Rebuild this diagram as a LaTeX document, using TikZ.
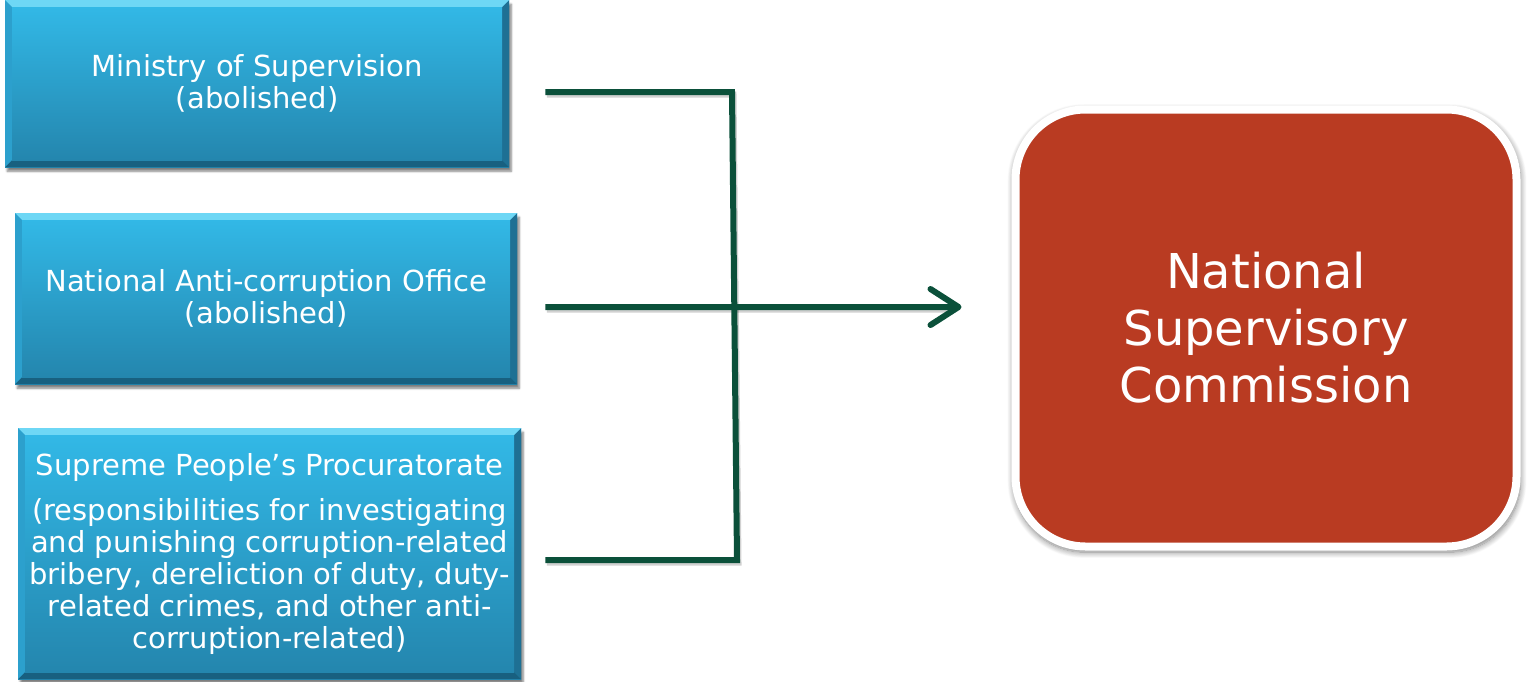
\documentclass[tikz,border=0pt]{standalone}
\usepackage{fontspec}
\setmainfont{DejaVu Sans}
\usetikzlibrary{arrows.meta,shadows.blur,calc}

\definecolor{boxtop}{RGB}{50,184,230}
\definecolor{boxbot}{RGB}{36,134,174}
\definecolor{bevlight}{RGB}{110,215,245}
\definecolor{bevleft}{RGB}{44,160,205}
\definecolor{bevright}{RGB}{30,112,148}
\definecolor{bevdark}{RGB}{24,96,128}
\definecolor{nscred}{RGB}{185,59,34}
\definecolor{linkgreen}{RGB}{11,80,58}

\tikzset{
  bluebox/.style={
    anchor=north west, inner sep=0pt, align=center, text=white,
    top color=boxtop, bottom color=boxbot,
    font=\fontsize{29}{32}\selectfont,
    blur shadow={shadow xshift=2pt, shadow yshift=-4pt, shadow opacity=50, shadow blur steps=6},
    path picture={
      \coordinate (pNW) at (path picture bounding box.north west);
      \coordinate (pNE) at (path picture bounding box.north east);
      \coordinate (pSW) at (path picture bounding box.south west);
      \coordinate (pSE) at (path picture bounding box.south east);
      \fill[bevlight] (pNW) -- (pNE) -- ($(pNE)+(-7,7)$) -- ($(pNW)+(7,7)$) -- cycle;
      \fill[bevleft] (pNW) -- ($(pNW)+(7,7)$) -- ($(pSW)+(7,-7)$) -- (pSW) -- cycle;
      \fill[bevright] (pNE) -- ($(pNE)+(-7,7)$) -- ($(pSE)+(-7,-7)$) -- (pSE) -- cycle;
      \fill[bevdark] (pSW) -- (pSE) -- ($(pSE)+(-7,-7)$) -- ($(pSW)+(7,-7)$) -- cycle;
      \shade[top color=boxtop, bottom color=boxbot]
        ($(pNW)+(7,7)$) rectangle ($(pSE)+(-7,-7)$);
    }},
  bigbox/.style={
    rounded corners=70pt, fill=nscred, draw=white, line width=8pt,
    text=white, align=center, inner sep=0pt,
    font=\fontsize{48}{57}\selectfont,
    blur shadow={shadow xshift=1pt, shadow yshift=-3pt, shadow scale=1.012,
      shadow opacity=50, shadow blur radius=6pt, shadow blur steps=10}},
  link/.style={draw=linkgreen, line width=6pt},
  linkshade/.style={draw=black, opacity=0.18, line width=6pt}
}

\begin{document}
\begin{tikzpicture}[x=1pt,y=-1pt]
\useasboundingbox (0,0) rectangle (1527,681);

% source bodies
\node[bluebox, minimum width=504pt, minimum height=167pt] (ms) at (5,0)
  {Ministry of Supervision\\(abolished)};
\node[bluebox, minimum width=502pt, minimum height=171pt] (nao) at (15,213)
  {National Anti-corruption Office\\(abolished)};
\node[bluebox, minimum width=503pt, minimum height=251pt] (spp) at (18,428)
  {Supreme People’s Procuratorate\\[13pt]
   (responsibilities for investigating\\
   and punishing corruption-related\\
   bribery, dereliction of duty, duty-\\
   related crimes, and other anti-\\
   corruption-related)};

% merged body
\node[bigbox, minimum width=501pt, minimum height=437pt] (nsc) at (1266,328)
  {National\\Supervisory\\Commission};

% bracket end points
\coordinate (s1) at ($(ms.east)+(36,8.5)$);
\coordinate (s2) at ($(nao.east)+(28,8.5)$);
\coordinate (s3) at ($(spp.east)+(24,6.5)$);
\coordinate (j1) at (732,92);
\coordinate (j3) at (737,560);
\coordinate (tip) at ($(nsc.west)+(-50,-21)$);

% soft shadow under the bracket
\draw[linkshade] ($(s1)+(1.5,2.5)$) -- ($(j1)+(1.5,2.5)$) -- ($(j3)+(1.5,2.5)$) -- ($(s3)+(1.5,2.5)$);
\draw[linkshade] ($(s2)+(1.5,2.5)$) -- ($(tip)+(-10,2.5)$);

% bracket and arrow
\draw[link, line join=miter] (s1) -- (j1) -- (j3) -- (s3);
\draw[link, -{Straight Barb[length=28pt, width=36pt, line cap=round, line join=round]}] (s2) -- (tip);
\end{tikzpicture}
\end{document}
